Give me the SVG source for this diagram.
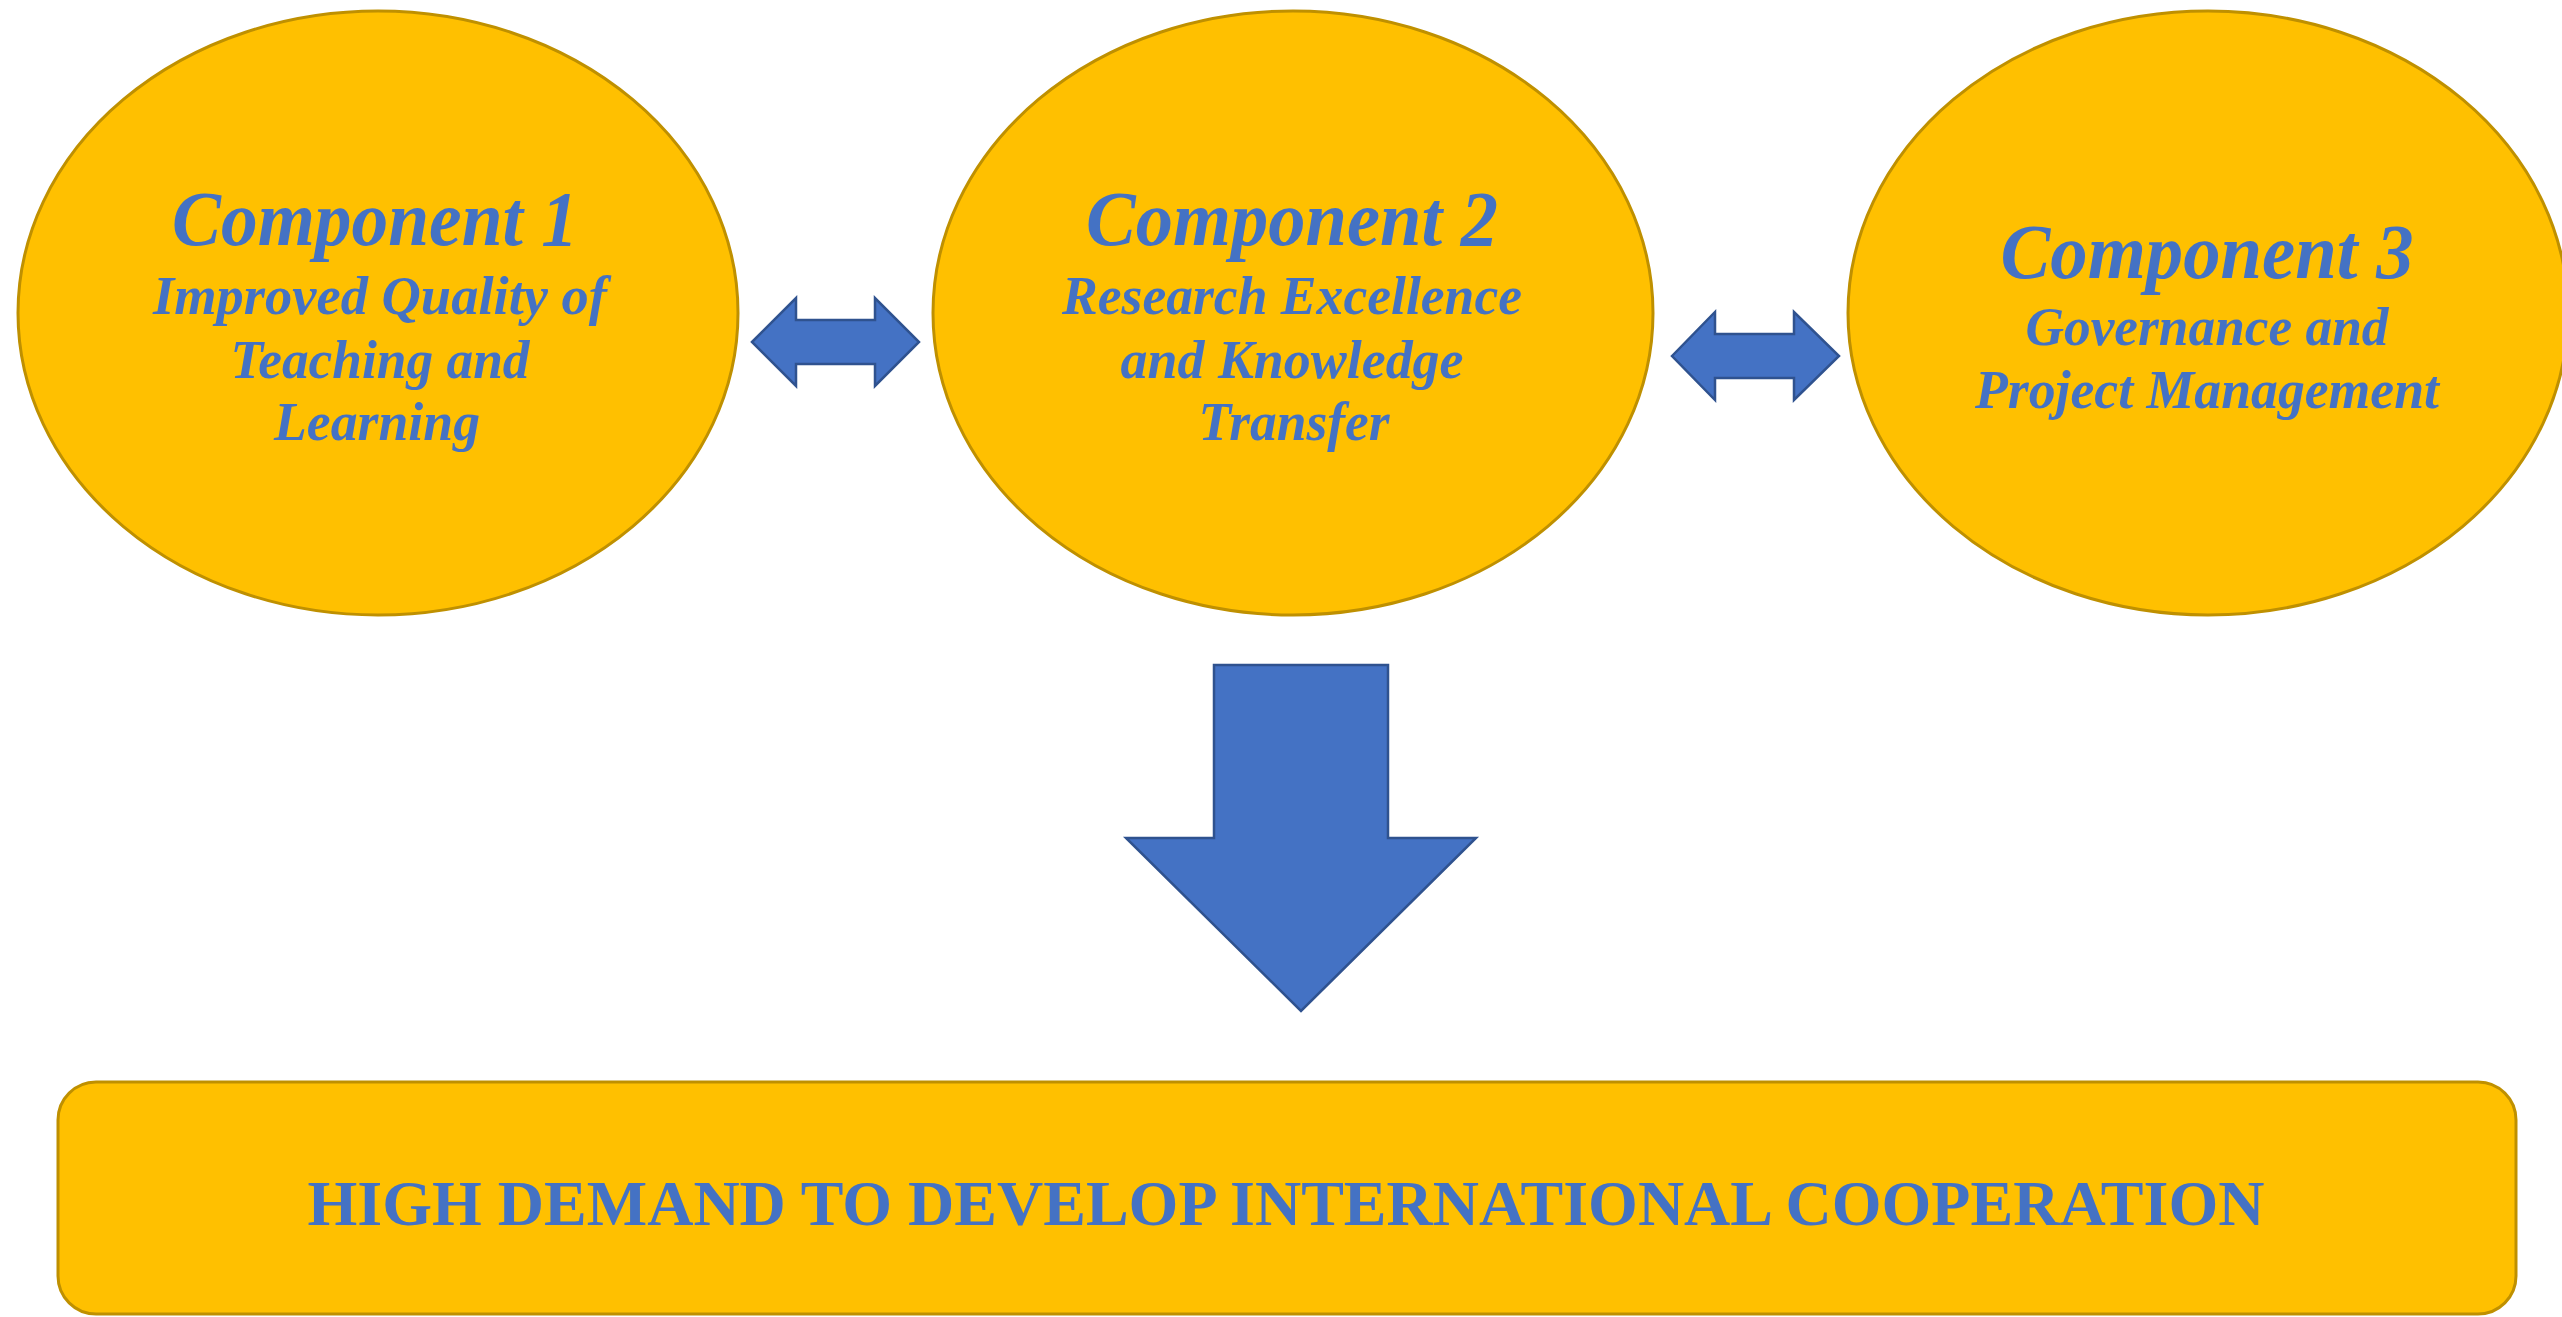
<svg xmlns="http://www.w3.org/2000/svg" width="2562" height="1317" viewBox="0 0 2562 1317">
<style>
.node{fill:#FFC000;stroke:#BF9000;stroke-width:3}
.arrow{fill:#4472C4;stroke:#2F528F;stroke-width:2.5;stroke-linejoin:miter}
.t1{font-family:"Liberation Serif","Times New Roman",serif;font-weight:bold;font-style:italic;fill:#4472C4;text-anchor:middle;font-size:78px}
.t2{font-family:"Liberation Serif","Times New Roman",serif;font-weight:bold;font-style:italic;fill:#4472C4;text-anchor:middle;font-size:55px}
.t3{font-family:"Liberation Serif","Times New Roman",serif;font-weight:bold;fill:#4472C4;text-anchor:middle;font-size:64px}
</style>
<rect width="2562" height="1317" fill="#FFFFFF"/>
<g id="component1">
<ellipse class="node" cx="378" cy="313" rx="360" ry="302"/>
<text class="t1" x="375" y="245" textLength="406" lengthAdjust="spacingAndGlyphs">Component 1</text>
<text class="t2" x="380" y="314" textLength="454" lengthAdjust="spacingAndGlyphs">Improved Quality of</text>
<text class="t2" x="380" y="378" textLength="299" lengthAdjust="spacingAndGlyphs">Teaching and</text>
<text class="t2" x="377" y="440" textLength="206" lengthAdjust="spacingAndGlyphs">Learning</text>
</g>
<g id="component2">
<ellipse class="node" cx="1293" cy="313" rx="360" ry="302"/>
<text class="t1" x="1292" y="245" textLength="412" lengthAdjust="spacingAndGlyphs">Component 2</text>
<text class="t2" x="1292" y="314" textLength="460" lengthAdjust="spacingAndGlyphs">Research Excellence</text>
<text class="t2" x="1292" y="378" textLength="343" lengthAdjust="spacingAndGlyphs">and Knowledge</text>
<text class="t2" x="1294" y="440" textLength="191" lengthAdjust="spacingAndGlyphs">Transfer</text>
</g>
<g id="component3">
<ellipse class="node" cx="2208" cy="313" rx="360" ry="302"/>
<text class="t1" x="2207" y="278" textLength="413" lengthAdjust="spacingAndGlyphs">Component 3</text>
<text class="t2" x="2207" y="345" textLength="363" lengthAdjust="spacingAndGlyphs">Governance and</text>
<text class="t2" x="2207" y="408" textLength="464" lengthAdjust="spacingAndGlyphs">Project Management</text>
</g>
<g id="goal">
<rect class="node" x="58" y="1082" width="2458" height="232" rx="38" ry="38"/>
<text class="t3" x="1286" y="1225" textLength="1957" lengthAdjust="spacingAndGlyphs">HIGH DEMAND TO DEVELOP INTERNATIONAL COOPERATION</text>
</g>
<g id="connectors">
<path class="arrow" d="M752,342 L796,298 L796,320 L875,320 L875,298 L919,342 L875,386 L875,364 L796,364 L796,386 Z"/>
<path class="arrow" d="M1672,356 L1715,312 L1715,334 L1794,334 L1794,312 L1839,356 L1794,400 L1794,378 L1715,378 L1715,400 Z"/>
<path class="arrow" d="M1214,665 L1388,665 L1388,838 L1476,838 L1301,1011 L1126,838 L1214,838 Z"/>
</g>
</svg>
